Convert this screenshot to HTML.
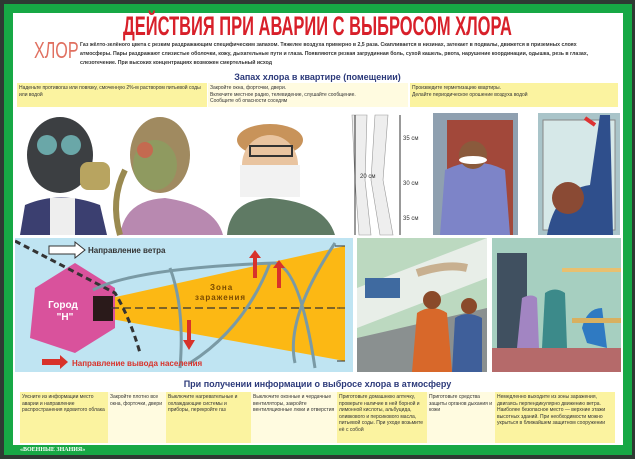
<!DOCTYPE html><html><head><meta charset="utf-8"><style>
*{margin:0;padding:0;box-sizing:border-box}
body{width:635px;height:459px;background:#2e3a33;position:relative;overflow:hidden;font-family:"Liberation Sans",sans-serif}
.a{position:absolute}
.t{font-size:5px;color:#333;line-height:6.5px}
.y{background:#fbf3a0}
</style></head><body>
<div class="a" style="left:4px;top:4px;width:628px;height:451px;background:#17a845"></div>
<div class="a" style="left:13px;top:13px;width:610px;height:432px;background:#fff"></div>
<div class="a" style="left:-200px;top:11px;width:1035px;white-space:nowrap;text-align:center;font-weight:bold;font-size:27px;line-height:30px;color:#d8202a;transform:scaleX(.61);transform-origin:center">ДЕЙСТВИЯ ПРИ АВАРИИ С ВЫБРОСОМ ХЛОРА</div>
<div class="a" style="left:34px;top:37px;font-size:23px;color:#e07060;transform:scaleX(.7);transform-origin:left;white-space:nowrap">ХЛОР</div>
<div class="a" style="left:80px;top:41px;width:525px;font-size:5.2px;font-weight:bold;color:#333;line-height:9px">Газ жёлто-зелёного цвета с резким раздражающим специфическим запахом. Тяжелее воздуха примерно в 2,5 раза. Скапливается в низинах, затекает в подвалы, движется в приземных слоях атмосферы. Пары раздражают слизистые оболочки, кожу, дыхательные пути и глаза. Появляются резкая загрудинная боль, сухой кашель, рвота, нарушение координации, одышка, резь в глазах, слезотечение. При высоких концентрациях возможен смертельный исход</div>
<div class="a" style="left:0;top:72px;width:635px;text-align:center;font-size:9px;font-weight:bold;color:#2c3a7a">Запах хлора в квартире (помещении)</div>
<div class="a y t" style="left:17px;top:83px;width:190px;height:24px;padding:2px">Наденьте противогаз или повязку, смоченную 2%-м раствором питьевой соды или водой</div>
<div class="a t" style="left:208px;top:83px;width:200px;height:24px;padding:2px;background:#fffbe0">Закройте окна, форточки, двери.<br>Включите местное радио, телевидение, слушайте сообщение.<br>Сообщите об опасности соседям</div>
<div class="a y t" style="left:410px;top:83px;width:208px;height:24px;padding:2px">Произведите герметизацию квартиры.<br>Делайте периодическое орошение воздуха водой</div>
<svg class="a" style="left:15px;top:110px" width="605" height="127">
<ellipse cx="45" cy="45" rx="33" ry="38" fill="#3c3f42"/><circle cx="32" cy="35" r="10" fill="#6aa7a8"/><circle cx="56" cy="35" r="10" fill="#6aa7a8"/><rect x="65" y="52" width="30" height="28" rx="8" fill="#b8a460"/>
<path d="M5 125 L10 95 Q45 80 85 95 L92 125Z" fill="#3b3f70"/><rect x="35" y="88" width="25" height="37" fill="#eee"/>
<ellipse cx="145" cy="45" rx="30" ry="38" fill="#a08a60"/><ellipse cx="140" cy="55" rx="22" ry="25" fill="#8f9a60"/><circle cx="130" cy="40" r="8" fill="#c46a50"/>
<path d="M105 125 Q110 90 150 88 Q200 95 208 125Z" fill="#b889b0"/><path d="M110 60 Q95 90 105 125" stroke="#9a8a50" stroke-width="6" fill="none"/>
<ellipse cx="255" cy="30" rx="33" ry="16" fill="#c8935a"/><ellipse cx="255" cy="55" rx="28" ry="30" fill="#e9c4a0"/><rect x="225" y="55" width="60" height="32" fill="#f2f2f2"/><rect x="235" y="36" width="42" height="10" fill="none" stroke="#333" stroke-width="2"/>
<path d="M212 125 Q215 90 255 88 Q310 92 320 125Z" fill="#5f7a64"/>
<path d="M337 5 L352 5 L350 70 L356 125 L344 125 L340 70Z M360 5 L373 5 L368 70 L378 125 L365 125 L356 70Z" fill="#eee" stroke="#999" stroke-width=".6"/>
<line x1="385" y1="5" x2="385" y2="125" stroke="#333"/><line x1="340" y1="5" x2="340" y2="125" stroke="#333"/>
<text x="388" y="30" font-size="6" fill="#333">35 см</text><text x="388" y="75" font-size="6" fill="#333">30 см</text><text x="388" y="110" font-size="6" fill="#333">35 см</text><text x="345" y="68" font-size="6" fill="#333">20 см</text>
<rect x="418" y="3" width="85" height="122" fill="#8fa0b0"/><rect x="432" y="10" width="66" height="115" fill="#a2483a"/><path d="M425 125 L430 60 Q460 45 490 60 L495 125Z" fill="#7d84c8"/><circle cx="458" cy="45" r="14" fill="#8a5a3c"/><ellipse cx="458" cy="50" rx="14" ry="4" fill="#fff"/>
<rect x="523" y="3" width="82" height="122" fill="#a9c4c9"/><rect x="528" y="10" width="72" height="110" fill="#d6e8e8" stroke="#888"/><path d="M532 125 Q540 80 575 75 L585 5 L595 5 L598 125Z" fill="#2f4f8c"/><circle cx="553" cy="88" r="16" fill="#8a4a34"/><path d="M580 15 L570 8" stroke="#d33" stroke-width="4"/>
</svg>
<svg class="a" style="left:15px;top:238px" width="338" height="134">
<rect width="338" height="134" fill="#bfe4f2"/>
<polygon points="96,60 330,8 330,123 96,81" fill="#fcb814"/>
<polygon points="20,50 60,25 100,50 100,90 60,115 15,100" fill="#d9529c"/>
<rect x="78" y="58" width="20" height="25" fill="#2a1a1a"/>
<text x="48" y="70" font-size="10" font-weight="bold" fill="#fff" text-anchor="middle">Город</text><text x="50" y="82" font-size="10" font-weight="bold" fill="#fff" text-anchor="middle">"Н"</text>
<line x1="96" y1="70" x2="325" y2="70" stroke="#333" stroke-dasharray="8,4" stroke-width="1.2"/>
<path d="M0 3 L100 55 Q115 80 125 115" stroke="#333" stroke-width="3" stroke-dasharray="6,4" fill="none"/>
<path d="M78 52 Q120 30 260 25 Q285 30 300 130" stroke="#7a9aa5" stroke-width="3" fill="none"/>
<path d="M155 30 Q170 70 165 130 M175 125 Q230 90 255 25 M280 125 Q270 80 320 5" stroke="#7a9aa5" stroke-width="3" fill="none"/>
<path d="M320 8 L330 8 M322 70 L330 70 M322 123 L330 123" stroke="#333"/>
<path d="M34 8 L60 8 L60 4 L70 12 L60 20 L60 16 L34 16Z" fill="#fff" stroke="#333"/>
<text x="73" y="15" font-size="8" font-weight="bold" fill="#333">Направление ветра</text>
<text x="195" y="52" font-size="8" font-weight="bold" fill="#7a4a00" letter-spacing="1">Зона</text><text x="180" y="62" font-size="8" font-weight="bold" fill="#7a4a00" letter-spacing="1">заражения</text>
<path d="M238 40 L238 20 L234 20 L240 12 L246 20 L242 20 L242 40Z M262 50 L262 30 L258 30 L264 22 L270 30 L266 30 L266 50Z" fill="#d8322a"/>
<path d="M172 82 L172 102 L168 102 L174 112 L180 102 L176 102 L176 82Z" fill="#d8322a"/>
<path d="M27 121 L45 121 L45 117 L53 124 L45 131 L45 127 L27 127Z" fill="#d8322a"/>
<text x="57" y="128" font-size="8" font-weight="bold" fill="#d8322a">Направление вывода населения</text>
</svg>
<svg class="a" style="left:357px;top:238px" width="264" height="134">
<rect width="130" height="134" fill="#bcd9c0"/><polygon points="0,50 130,0 130,40 0,90" fill="#e8eee8"/><polygon points="0,100 130,70 130,134 0,134" fill="#8a9090"/>
<rect x="8" y="40" width="35" height="20" fill="#3f6aa0"/><path d="M60 35 Q90 25 110 30" stroke="#c8b090" stroke-width="8" fill="none"/>
<path d="M55 134 L60 75 Q75 65 90 75 L95 134Z" fill="#d8682a"/><circle cx="75" cy="62" r="9" fill="#8a4a2a"/>
<path d="M95 134 L98 80 Q110 72 125 80 L125 134Z" fill="#3f5f9a"/><circle cx="112" cy="68" r="8" fill="#8a4a2a"/>
<rect x="135" width="129" height="134" fill="#a6cfc0"/><rect x="135" y="110" width="129" height="24" fill="#b56a6a"/><rect x="140" y="15" width="30" height="95" fill="#405060"/>
<path d="M160 110 L165 60 Q175 55 180 60 L182 110Z" fill="#a285c2"/><path d="M185 110 L188 55 Q198 48 208 55 L210 110Z" fill="#3c8a8a"/><path d="M225 90 Q230 70 245 70 L250 110 L230 105Z" fill="#2f7ac2"/>
<rect x="205" y="30" width="59" height="4" fill="#e8c070"/><rect x="215" y="80" width="49" height="5" fill="#d8b060"/>
</svg>
<div class="a" style="left:0;top:379px;width:635px;text-align:center;font-size:9px;font-weight:bold;color:#2c3a7a">При получении информации о выбросе хлора в атмосферу</div>
<div class="a y t" style="left:20px;top:392px;width:88px;height:51px;padding:2px">Уясните из информации место аварии и направление распространения ядовитого облака</div>
<div class="a t" style="left:108px;top:392px;width:58px;height:51px;padding:2px;background:#fffbe0">Закройте плотно все окна, форточки, двери</div>
<div class="a y t" style="left:166px;top:392px;width:85px;height:51px;padding:2px">Выключите нагревательные и охлаждающие системы и приборы, перекройте газ</div>
<div class="a t" style="left:251px;top:392px;width:86px;height:51px;padding:2px;background:#fffbe0">Выключите оконные и чердачные вентиляторы, закройте вентиляционные люки и отверстия</div>
<div class="a y t" style="left:337px;top:392px;width:90px;height:51px;padding:2px">Приготовьте домашнюю аптечку, проверьте наличие в ней борной и лимонной кислоты, альбуцида, оливкового и персикового масла, питьевой соды. При уходе возьмите её с собой</div>
<div class="a t" style="left:427px;top:392px;width:68px;height:51px;padding:2px;background:#fffbe0">Приготовьте средства защиты органов дыхания и кожи</div>
<div class="a y t" style="left:495px;top:392px;width:120px;height:51px;padding:2px">Немедленно выходите из зоны заражения, двигаясь перпендикулярно движению ветра. Наиболее безопасное место — верхние этажи высотных зданий. При необходимости можно укрыться в ближайшем защитном сооружении</div>
<div class="a" style="left:20px;top:447px;font-size:6px;font-weight:bold;color:#fff;font-family:'Liberation Serif',serif">«ВОЕННЫЕ ЗНАНИЯ»</div>
</body></html>
